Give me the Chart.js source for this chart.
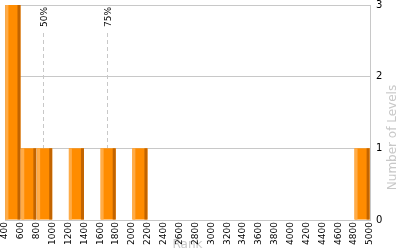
<!DOCTYPE html>
<html>
<head>
<meta charset="utf-8">
<script src="https://cdn.jsdelivr.net/npm/chart.js@4"></script>
<style>
  html, body { margin: 0; padding: 0; background: #fff; }
  #wrap { width: 400px; height: 250px; }
</style>
</head>
<body>
<div id="wrap"><canvas id="rankChart"></canvas></div>
<script>
// histogram data
var binCenters = [500, 700, 900, 1300, 1700, 2100, 4900]
var levelCounts = [3, 1, 1, 1, 1, 1, 1]
var percentileLabels = ['50%', '75%']
var percentileValues = [885, 1690]
var yTitle = 'Number of Levels'

var gridGray = '#c8c8c8'
var titleGray = '#c8c8c8'

// light/dark strips on the bars
var bevelBars = {
    id: 'bevelBars',
    afterDatasetDraw: function(chart, args) {
        var ctx = chart.ctx
        chart.getDatasetMeta(args.index).data.forEach(function(bar) {
            var p = bar.getProps(['x', 'y', 'base', 'width'], true)
            var left = p.x - p.width / 2
            var right = p.x + p.width / 2
            ctx.save()
            ctx.fillStyle = '#ffac48'
            ctx.fillRect(left, p.y, 3, p.base - p.y)
            ctx.fillStyle = '#c26400'
            ctx.fillRect(right - 3, p.y, 3, p.base - p.y)
            ctx.restore()
        })
    }
}

// dashed percentile markers, behind the bars
var percentileLines = {
    id: 'percentileLines',
    beforeDatasetsDraw: function(chart) {
        var ctx = chart.ctx
        var xs = chart.scales.x
        var area = chart.chartArea
        percentileValues.forEach(function(v, i) {
            var px = Math.round(xs.getPixelForValue(v)) + 0.5
            ctx.save()
            ctx.strokeStyle = gridGray
            ctx.lineWidth = 1
            ctx.setLineDash([4, 3])
            ctx.beginPath()
            ctx.moveTo(px, area.top + 28)
            ctx.lineTo(px, area.bottom)
            ctx.stroke()
            ctx.setLineDash([])
            ctx.translate(px + 1, area.top + 2)
            ctx.rotate(-Math.PI / 2)
            ctx.fillStyle = '#000'
            ctx.font = '9px "DejaVu Sans"'
            ctx.textAlign = 'right'
            ctx.textBaseline = 'middle'
            ctx.fillText(percentileLabels[i], 0, 0)
            ctx.restore()
        })
    }
}

// y title reading bottom to top on the right side
var rightTitle = {
    id: 'rightTitle',
    afterDraw: function(chart) {
        var ctx = chart.ctx
        var area = chart.chartArea
        ctx.save()
        ctx.translate(chart.width - 7, (area.top + area.bottom) / 2 + 25)
        ctx.rotate(-Math.PI / 2)
        ctx.fillStyle = titleGray
        ctx.font = '12px "DejaVu Sans"'
        ctx.textAlign = 'center'
        ctx.textBaseline = 'middle'
        ctx.fillText(yTitle, 0, 0)
        ctx.restore()
    }
}

var rankChart = new Chart(document.querySelector('#rankChart'), {
    type: 'bar',
    data: {
        datasets: [{
            data: binCenters.map(function(c, i) { return {x: c, y: levelCounts[i]} }),
            backgroundColor: '#ff8c00',
            borderWidth: 0,
            barPercentage: 0.95,
            categoryPercentage: 1
        }]
    },
    options: {
        responsive: true,
        maintainAspectRatio: false,
        animation: false,
        layout: { padding: { left: 5, right: 17, top: 5, bottom: 0 } },
        plugins: {
            legend: { display: false },
            tooltip: { enabled: false }
        },
        scales: {
            x: {
                type: 'linear',
                min: 400,
                max: 5000,
                offset: false,
                afterFit: function(s) { s.height = 30; s.paddingLeft = 0; s.paddingRight = 0 },
                grid: {
                    display: true,
                    drawTicks: false,
                    offset: false,
                    color: function(c) { return c.index === 0 ? gridGray : 'rgba(0,0,0,0)' }
                },
                border: { display: true, color: gridGray },
                ticks: {
                    stepSize: 200,
                    autoSkip: false,
                    minRotation: 90,
                    maxRotation: 90,
                    padding: 2,
                    color: '#000',
                    font: { family: 'DejaVu Sans', size: 9 },
                    callback: function(v) { return String(v) }
                },
                title: {
                    display: true,
                    text: 'Rank',
                    color: titleGray,
                    padding: { top: 0, bottom: -2 },
                    font: { family: 'DejaVu Sans', size: 12 }
                }
            },
            y: {
                position: 'right',
                min: 0,
                max: 3,
                afterFit: function(s) { s.width = 13; s.paddingTop = 0; s.paddingBottom = 0 },
                grid: { color: gridGray, drawTicks: false },
                border: { display: true, color: gridGray },
                ticks: {
                    stepSize: 1,
                    padding: 6,
                    color: '#000',
                    font: { family: 'DejaVu Sans', size: 10 }
                }
            }
        }
    },
    plugins: [bevelBars, percentileLines, rightTitle]
})
</script>
</body>
</html>
